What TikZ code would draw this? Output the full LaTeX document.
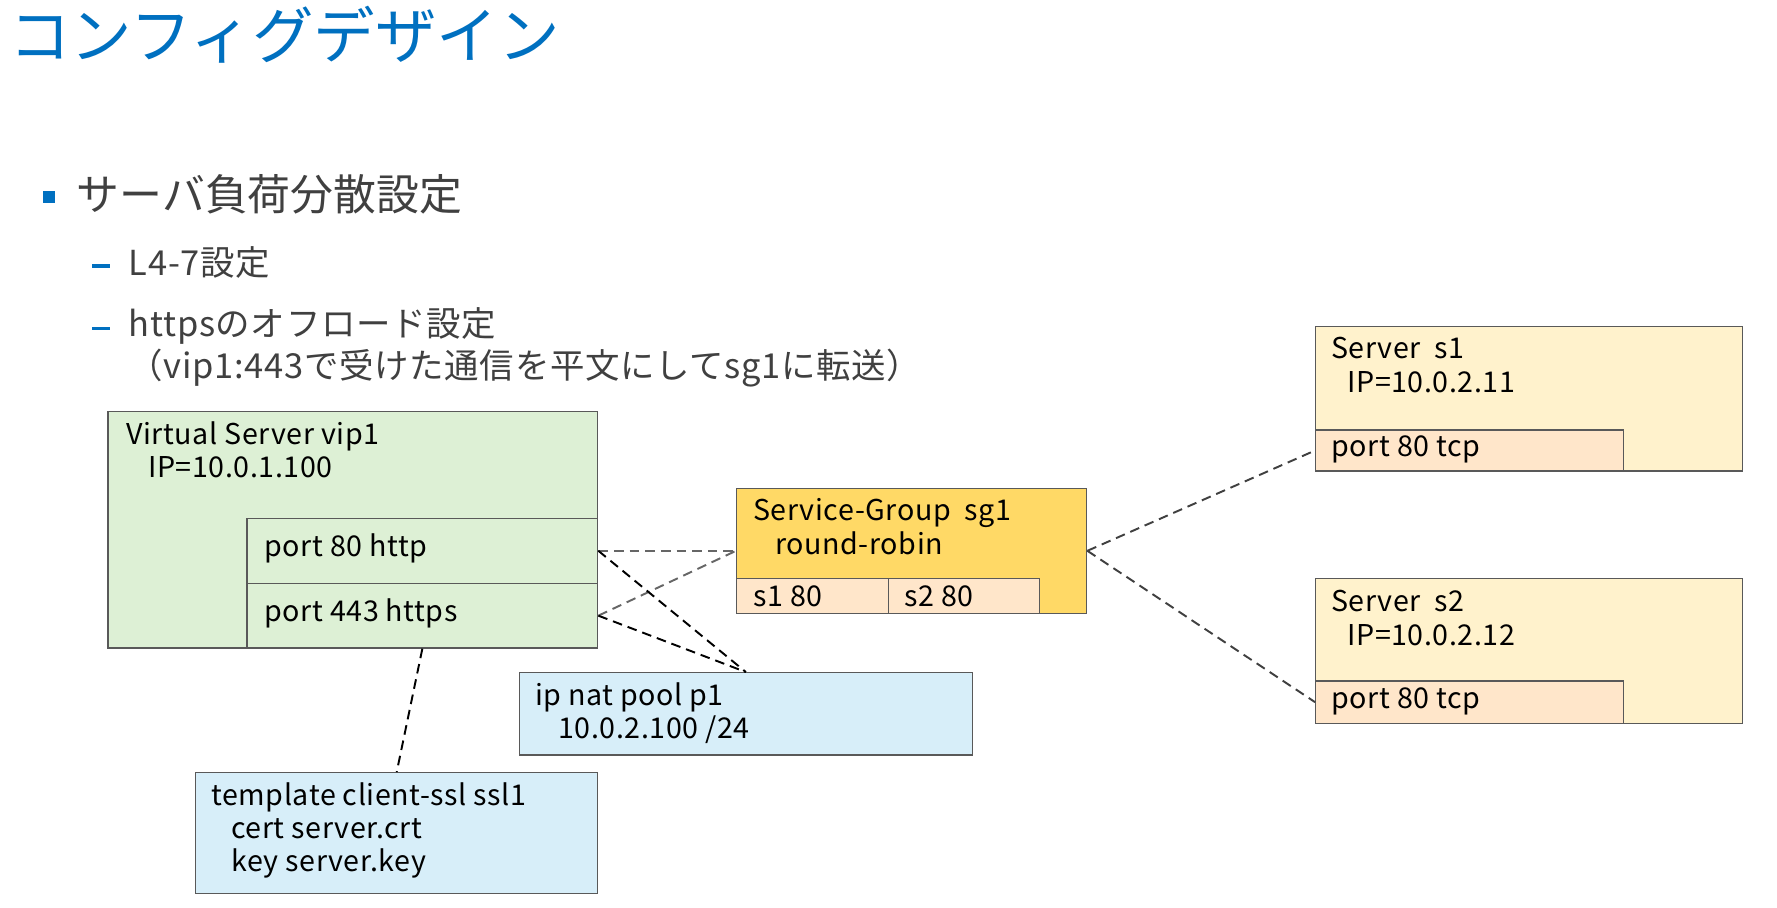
\documentclass[tikz,border=0pt]{standalone}
\usepackage{fontspec}
\setmainfont{Noto Sans CJK JP}
\newfontfamily\spacedfont[LetterSpace=2]{Noto Sans CJK JP}
\usepackage{tikz}
\usetikzlibrary{fit}

\definecolor{titleblue}{HTML}{0070C0}
\definecolor{bodygray}{HTML}{404040}
\definecolor{edgegray}{HTML}{595959}
\definecolor{vsgreen}{HTML}{DDF0D5}
\definecolor{sggold}{HTML}{FFD966}
\definecolor{peach}{HTML}{FFE6CA}
\definecolor{srvcream}{HTML}{FFF2CC}
\definecolor{cfgblue}{HTML}{D7EEF9}
\definecolor{linkgray}{HTML}{666666}
\definecolor{linkdark}{HTML}{404040}

\tikzset{
  box/.style={draw=edgegray, line width=0.75pt, inner sep=0pt},
  lbl/.style={font=\spacedfont\fontsize{16.3}{19}\selectfont, inner sep=0pt, anchor=base west},
  txt/.style={font=\spacedfont\fontsize{19.6}{23}\selectfont, text=bodygray, inner sep=0pt, anchor=base west},
  link/.style={line width=1.1pt, dash pattern=on 5.5pt off 3.4pt},
}

\begin{document}
\begin{tikzpicture}[x=0.02cm, y=-0.02cm]
    \useasboundingbox (0,0) rectangle (1777,907);

    % --- Title and bullet list ---
    \node[anchor=base west, inner sep=0pt, text=titleblue, font=\fontsize{35}{42}\selectfont] (title) at (9,58) {コンフィグデザイン};
    \node[fill=titleblue, inner sep=0pt, fit={(42.7,190.7) (55,203.3)}] (bullet) {};
    \node[txt, font=\fontsize{24.4}{29}\selectfont] (item) at (76.5,210) {サーバ負荷分散設定};
    \node[fill=titleblue, inner sep=0pt, fit={(91.7,264.3) (110,267.6)}] (dasha) {};
    \node[fill=titleblue, inner sep=0pt, fit={(91.7,326.6) (110,330)}] (dashb) {};
    \node[txt] (suba) at (128.5,275) {L4-7設定};
    \node[txt] (subb) at (128.5,336.7) {httpsのオフロード設定};
    \node[txt] (subc) at (128.5,378.3) {（vip1:443で受けた通信を平文にしてsg1に転送）};

    % --- Virtual Server with its two ports ---
    \node[box, fill=vsgreen, fit={(108,411.7) (597.7,648)}] (vs) {};
    \node[box, fill=vsgreen, fit={(247,518.3) (597.7,583.3)}] (p80) {};
    \node[box, fill=vsgreen, fit={(247,583.3) (597.7,648)}] (p443) {};
    \node[lbl] (vsname) at (126,444) {Virtual Server vip1};
    \node[lbl] (vsip) at (148,477) {IP=10.0.1.100};
    \node[lbl] (p80txt) at (264,556.7) {port 80 http};
    \node[lbl] (p443txt) at (264,621.7) {port 443 https};

    % --- Service group ---
    \node[box, fill=sggold, fit={(736.7,488.3) (1086.7,613.3)}] (sg) {};
    \node[box, fill=peach, fit={(736.7,578.3) (888.7,613.3)}] (sgone) {};
    \node[box, fill=peach, fit={(888.7,578.3) (1039.3,613.3)}] (sgtwo) {};
    \node[lbl] (sgname) at (753,520.7) {Service-Group~~sg1};
    \node[lbl] (sgalg) at (775,554) {round-robin};
    \node[lbl] (sgonetxt) at (753,606.7) {s1 80};
    \node[lbl] (sgtwotxt) at (904,606.7) {s2 80};

    % --- NAT pool and SSL template ---
    \node[box, fill=cfgblue, fit={(519.3,672.7) (972.4,755)}] (nat) {};
    \node[lbl] (natname) at (534.7,705) {ip nat pool p1};
    \node[lbl] (natnet) at (558,738.3) {10.0.2.100 /24};
    \node[box, fill=cfgblue, fit={(195.7,772.7) (597.7,893.3)}] (tpl) {};
    \node[lbl] (tplname) at (211,805) {template client-ssl ssl1};
    \node[lbl] (tplcert) at (231,838.3) {cert server.crt};
    \node[lbl] (tplkey) at (231,871.7) {key server.key};

    % --- Real servers ---
    \node[box, fill=srvcream, fit={(1315.7,326.7) (1742.7,471)}] (sone) {};
    \node[box, fill=peach, fit={(1315.7,430) (1623.3,471)}] (sonep) {};
    \node[lbl] (sonename) at (1331,358.3) {Server~~s1};
    \node[lbl] (soneip) at (1347,392.7) {IP=10.0.2.11};
    \node[lbl] (soneport) at (1331,456.7) {port 80 tcp};
    \node[box, fill=srvcream, fit={(1315.7,578.3) (1742.7,723.3)}] (stwo) {};
    \node[box, fill=peach, fit={(1315.7,681) (1623.3,723.3)}] (stwop) {};
    \node[lbl] (stwoname) at (1331,611.7) {Server~~s2};
    \node[lbl] (stwoip) at (1347,645) {IP=10.0.2.12};
    \node[lbl] (stwoport) at (1331,708.3) {port 80 tcp};

    % --- Dashed links ---
    \draw[link, linkgray] (p80.east) -- (sg.west);
    \draw[link, linkgray] (p443.east) -- (sg.west);
    \draw[link] (p80.east) -- (nat.north);
    \draw[link] (p443.east) -- (nat.north);
    \draw[link] (p443.south) -- (tpl.north);
    \draw[link, linkdark] (sg.east) -- (sonep.west);
    \draw[link, linkdark] (sg.east) -- (stwop.west);

\end{tikzpicture}
\end{document}
